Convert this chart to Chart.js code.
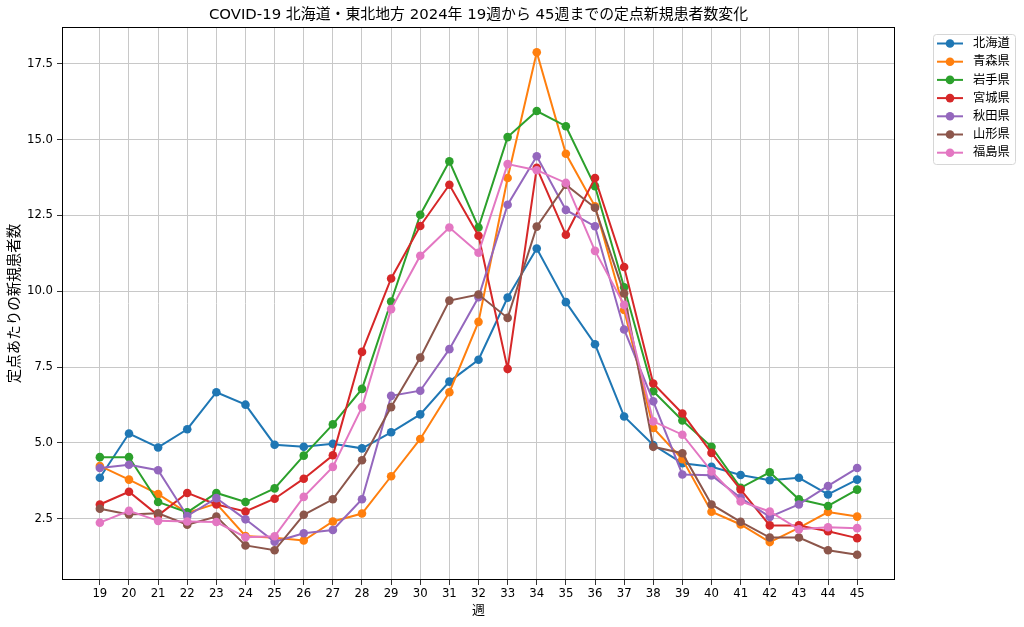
<!DOCTYPE html>
<html><head><meta charset="utf-8">
<script src="https://cdn.jsdelivr.net/npm/chart.js@4.4.1/dist/chart.umd.min.js"></script>
<style>html,body{margin:0;padding:0;background:#fff}canvas{display:block}</style>
</head><body>
<canvas id="c" width="1024" height="627"></canvas>
<script>
const weeks = [19,20,21,22,23,24,25,26,27,28,29,30,31,32,33,34,35,36,37,38,39,40,41,42,43,44,45];
const hokkaido = [3.85,5.31,4.85,5.45,6.67,6.26,4.94,4.87,4.97,4.82,5.35,5.94,7.02,7.74,9.79,11.41,9.64,8.25,5.87,4.93,4.33,4.21,3.94,3.77,3.85,3.30,3.79];
const aomori   = [4.24,3.79,3.31,2.69,3.00,1.93,1.87,1.78,2.41,2.67,3.90,5.13,6.67,8.99,13.73,17.88,14.53,12.80,9.38,5.49,4.46,2.73,2.31,1.73,2.20,2.72,2.57];
const iwate    = [4.53,4.53,3.05,2.71,3.35,3.05,3.50,4.58,5.61,6.78,9.66,12.52,14.28,12.10,15.08,15.94,15.44,13.46,10.13,6.70,5.74,4.87,3.52,4.03,3.14,2.92,3.46];
const miyagi   = [2.97,3.39,2.61,3.35,2.97,2.74,3.16,3.82,4.59,8.00,10.42,12.15,13.51,11.83,7.44,14.07,11.86,13.73,10.80,6.96,5.97,4.67,3.46,2.28,2.28,2.09,1.86];
const akita    = [4.17,4.28,4.10,2.59,3.18,2.48,1.74,2.02,2.13,3.14,6.55,6.72,8.09,9.80,12.85,14.45,12.68,12.14,8.74,6.37,3.96,3.93,3.19,2.56,2.97,3.58,4.17];
const yamagata = [2.83,2.64,2.68,2.30,2.57,1.62,1.46,2.63,3.14,4.43,6.18,7.81,9.69,9.89,9.12,12.13,13.51,12.75,9.93,4.87,4.66,2.97,2.40,1.88,1.88,1.46,1.31];
const fukushima= [2.37,2.76,2.43,2.41,2.39,1.89,1.92,3.22,4.21,6.18,9.41,11.17,12.10,11.27,14.19,13.99,13.57,11.33,9.55,5.71,5.27,4.06,3.07,2.74,2.15,2.22,2.19];

const prefectures = ['北海道','青森県','岩手県','宮城県','秋田県','山形県','福島県'];
const seriesValues = [hokkaido, aomori, iwate, miyagi, akita, yamagata, fukushima];
const colors = ['#1f77b4','#ff7f0e','#2ca02c','#d62728','#9467bd','#8c564b','#e377c2'];
const yTicks = [2.5,5.0,7.5,10.0,12.5,15.0,17.5];
const titleText = 'COVID-19 北海道・東北地方 2024年 19週から 45週までの定点新規患者数変化';
const yLabel = '定点あたりの新規患者数';
const xLabel = '週';
const FONT = "'DejaVu Sans', 'Noto Sans CJK JP', sans-serif";

const datasets = seriesValues.map((vals, i) => ({
  label: prefectures[i],
  data: weeks.map((w, j) => ({x: w, y: vals[j]})),
  borderColor: colors[i],
  backgroundColor: colors[i],
  pointBackgroundColor: colors[i],
  pointBorderColor: colors[i],
  pointBorderWidth: 0,
  pointRadius: 4.3,
  borderWidth: 2,
  tension: 0,
  order: seriesValues.length - i
}));

const decoPlugin = {
  id: 'deco',
  afterDraw(chart) {
    const {ctx, chartArea: a} = chart;
    ctx.save();
    ctx.strokeStyle = '#000';
    ctx.lineWidth = 1;
    ctx.strokeRect(Math.round(a.left) + 0.5, Math.round(a.top) + 0.5, Math.round(a.right - a.left) - 1, Math.round(a.bottom - a.top) - 1);
    ctx.fillStyle = '#000';
    ctx.font = '14.9px ' + FONT;
    ctx.textAlign = 'center';
    ctx.textBaseline = 'middle';
    ctx.fillText(titleText, (a.left + a.right) / 2, 15);
    // legend
    const bx = 933, by = 34, bw = 82, bh = 130;
    ctx.beginPath();
    ctx.roundRect(bx + 0.5, by + 0.5, bw, bh, 3);
    ctx.fillStyle = 'rgba(255,255,255,0.8)';
    ctx.fill();
    ctx.strokeStyle = '#d6d6d6';
    ctx.stroke();
    ctx.font = '12.3px ' + FONT;
    ctx.textAlign = 'left';
    chart.data.datasets.forEach((ds, i) => {
      const y = 43.5 + i * 18.2;
      ctx.strokeStyle = ds.borderColor;
      ctx.lineWidth = 2;
      ctx.beginPath();
      ctx.moveTo(937, y); ctx.lineTo(963, y); ctx.stroke();
      ctx.fillStyle = ds.borderColor;
      ctx.beginPath(); ctx.arc(950, y, 4.3, 0, Math.PI * 2); ctx.fill();
      ctx.fillStyle = '#000';
      ctx.fillText(ds.label, 973, y + 0.5);
    });
    ctx.restore();
  }
};

new Chart(document.getElementById('c'), {
  type: 'line',
  data: {datasets},
  options: {
    responsive: false,
    animation: false,
    devicePixelRatio: 1,
    layout: {padding: {left: 0, top: 27, right: 129, bottom: 0}},
    plugins: {legend: {display: false}, title: {display: false}, tooltip: {enabled: false}},
    scales: {
      x: {
        type: 'linear',
        min: 17.7, max: 46.3,
        afterBuildTicks: s => { s.ticks = weeks.map(v => ({value: v})); },
        afterFit: s => { s.height = 47; },
        grid: {color: '#c8c8c8', lineWidth: 1, drawTicks: true, tickLength: 5, tickColor: '#333'},
        border: {display: false},
        ticks: {color: '#000', font: {family: FONT, size: 11.7}, padding: 2, maxRotation: 0, autoSkip: false, callback: v => String(v)},
        title: {display: true, text: xLabel, color: '#000', font: {family: FONT, size: 13}, padding: {top: 0, bottom: 9}}
      },
      y: {
        type: 'linear',
        min: 0.48, max: 18.71,
        afterBuildTicks: s => { s.ticks = yTicks.map(v => ({value: v})); },
        afterFit: s => { s.width = 62; },
        grid: {color: '#c8c8c8', lineWidth: 1, drawTicks: true, tickLength: 5, tickColor: '#333'},
        border: {display: false},
        ticks: {color: '#000', font: {family: FONT, size: 11.7}, padding: 4, callback: v => v.toFixed(1)},
        title: {display: true, text: yLabel, color: '#000', font: {family: FONT, size: 14.5}, padding: {top: 7, bottom: 0}}
      }
    }
  },
  plugins: [decoPlugin]
});
</script>
</body></html>
